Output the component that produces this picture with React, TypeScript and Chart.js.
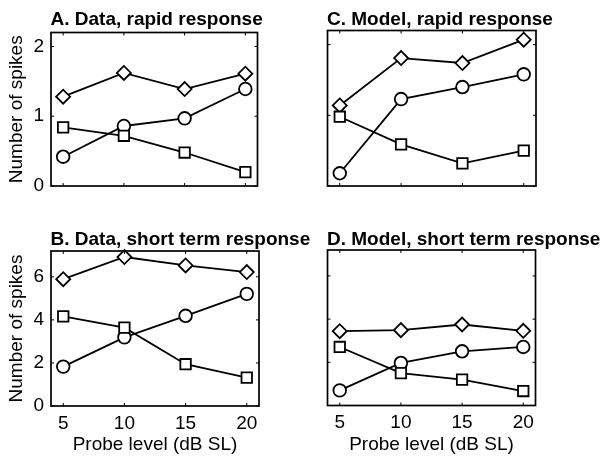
import React, { useEffect, useRef } from "react";
import { Chart, registerables } from "chart.js";

Chart.register(...registerables);

// ---- data ----
const probeLevels = [5, 10, 15, 20];
const xTickValues = [5, 10, 15, 20];
const rapidTicks = [0, 1, 2];
const shortTicks = [0, 2, 4, 6];

const panelTitles = [
  "A. Data, rapid response",
  "C. Model, rapid response",
  "B. Data, short term response",
  "D. Model, short term response",
];
const yAxisLabel = "Number of spikes";
const xAxisLabel = "Probe level (dB SL)";

const dataRapidDiamond = [1.28, 1.62, 1.39, 1.61];
const dataRapidCircle = [0.42, 0.86, 0.97, 1.39];
const dataRapidSquare = [0.84, 0.72, 0.48, 0.2];

const modelRapidDiamond = [1.14, 1.81, 1.74, 2.07];
const modelRapidCircle = [0.18, 1.23, 1.4, 1.58];
const modelRapidSquare = [0.98, 0.59, 0.32, 0.5];

const dataShortDiamond = [5.89, 6.92, 6.53, 6.22];
const dataShortCircle = [1.83, 3.19, 4.19, 5.21];
const dataShortSquare = [4.16, 3.64, 1.94, 1.32];

const modelShortDiamond = [3.44, 3.49, 3.75, 3.46];
const modelShortCircle = [0.7, 1.97, 2.51, 2.71];
const modelShortSquare = [2.71, 1.5, 1.2, 0.67];

const FONT = "'Liberation Sans', Arial, Helvetica, sans-serif";

type Box = { left: number; top: number; w: number; h: number };
type Area = { left: number; top: number; right: number; bottom: number };

type PanelProps = {
  title: string;
  diamonds: number[];
  circles: number[];
  squares: number[];
  yMax: number;
  yTicks: number[];
  showY: boolean;
  showX: boolean;
  box: Box;
  area: Area;
};

function Panel(props: PanelProps) {
  const ref = useRef<HTMLCanvasElement>(null);
  useEffect(() => {
    const { title, diamonds, circles, squares, yMax, yTicks, showY, showX, box, area } = props;
    const canvas = ref.current!;
    const mk = (vals: number[], style: any, r: number) => ({
      data: probeLevels.map((x, i) => ({ x, y: vals[i] })),
      borderColor: "#000",
      borderWidth: 1.8,
      backgroundColor: "#fff",
      pointStyle: style,
      pointRadius: r,
      pointBorderWidth: 1.8,
      pointBackgroundColor: "#fff",
      pointBorderColor: "#000",
      tension: 0,
      fill: false,
      showLine: true,
      clip: false as any,
    });
    const framePlugin = {
      id: "frame",
      afterDraw(chart: any) {
        const { ctx, chartArea, scales } = chart;
        const { left, top, right, bottom } = chartArea;
        ctx.save();
        ctx.strokeStyle = "#000";
        ctx.lineWidth = 1.7;
        ctx.strokeRect(left, top, right - left, bottom - top);
        ctx.lineWidth = 1;
        const tl = 3;
        ctx.beginPath();
        for (const t of scales.x.ticks) {
          const px = scales.x.getPixelForValue(t.value);
          ctx.moveTo(px, bottom);
          ctx.lineTo(px, bottom - tl);
          ctx.moveTo(px, top);
          ctx.lineTo(px, top + tl);
        }
        for (const t of scales.y.ticks) {
          const py = scales.y.getPixelForValue(t.value);
          ctx.moveTo(left, py);
          ctx.lineTo(left + tl, py);
          ctx.moveTo(right, py);
          ctx.lineTo(right - tl, py);
        }
        ctx.stroke();
        ctx.fillStyle = "#000";
        ctx.font = `bold 19px ${FONT}`;
        ctx.textAlign = "left";
        ctx.textBaseline = "alphabetic";
        ctx.fillText(title, left - 0.5, 24.5);
        ctx.restore();
      },
    };
    const chart = new Chart(canvas, {
      type: "line",
      data: {
        datasets: [
          mk(squares, "rect", 7.4),
          mk(circles, "circle", 6.3),
          mk(diamonds, "rectRot", 7),
        ] as any,
      },
      options: {
        responsive: false,
        animation: false,
        layout: {
          padding: { top: area.top, right: box.w - area.right, left: 0, bottom: 0 },
        },
        plugins: {
          legend: { display: false },
          tooltip: { enabled: false },
          title: { display: false },
        },
        scales: {
          x: {
            type: "linear",
            min: 4,
            max: 21,
            grid: { display: false, drawTicks: false },
            border: { display: false },
            ticks: {
              display: showX,
              padding: 6,
              color: "#000",
              font: { family: FONT, size: 19 },
              maxRotation: 0,
            },
            title: {
              display: showX,
              text: xAxisLabel,
              color: "#000",
              font: { family: FONT, size: 19 },
              padding: { top: 0, bottom: 7.6 },
            },
            afterBuildTicks: (s: any) => {
              s.ticks = xTickValues.map((v) => ({ value: v }));
            },
            afterFit: (s: any) => {
              s.height = box.h - area.bottom;
            },
          },
          y: {
            type: "linear",
            min: 0,
            max: yMax,
            grid: { display: false, drawTicks: false },
            border: { display: false },
            ticks: {
              display: showY,
              padding: 7,
              color: "#000",
              font: { family: FONT, size: 19 },
            },
            title: {
              display: showY,
              text: yAxisLabel,
              color: "#000",
              font: { family: FONT, size: 19 },
              padding: { top: 5.6, bottom: 0 },
            },
            afterBuildTicks: (s: any) => {
              s.ticks = yTicks.map((v) => ({ value: v }));
            },
            afterFit: (s: any) => {
              s.width = area.left;
            },
          },
        },
      } as any,
      plugins: [framePlugin],
    });
    return () => chart.destroy();
  }, []);
  const { box } = props;
  return (
    <canvas
      ref={ref}
      width={box.w}
      height={box.h}
      style={{ position: "absolute", left: box.left, top: box.top, width: box.w, height: box.h }}
    />
  );
}

export default function App() {
  return (
    <div
      style={{
        position: "absolute",
        left: 0,
        top: 0,
        width: 606,
        height: 464,
        background: "#fff",
        overflow: "hidden",
      }}
    >
      <Panel
        title={panelTitles[0]}
        diamonds={dataRapidDiamond}
        circles={dataRapidCircle}
        squares={dataRapidSquare}
        yMax={2.2}
        yTicks={rapidTicks}
        showY={true}
        showX={false}
        box={{ left: 0, top: 0, w: 300, h: 215 }}
        area={{ left: 51, top: 32.5, right: 257.5, bottom: 186 }}
      />
      <Panel
        title={panelTitles[1]}
        diamonds={modelRapidDiamond}
        circles={modelRapidCircle}
        squares={modelRapidSquare}
        yMax={2.2}
        yTicks={rapidTicks}
        showY={false}
        showX={false}
        box={{ left: 300, top: 0, w: 306, h: 215 }}
        area={{ left: 27.5, top: 30.5, right: 236, bottom: 186 }}
      />
      <Panel
        title={panelTitles[2]}
        diamonds={dataShortDiamond}
        circles={dataShortCircle}
        squares={dataShortSquare}
        yMax={7.2}
        yTicks={shortTicks}
        showY={true}
        showX={true}
        box={{ left: 0, top: 220, w: 320, h: 244 }}
        area={{ left: 51, top: 31, right: 259, bottom: 186 }}
      />
      <Panel
        title={panelTitles[3]}
        diamonds={modelShortDiamond}
        circles={modelShortCircle}
        squares={modelShortSquare}
        yMax={7.2}
        yTicks={shortTicks}
        showY={false}
        showX={true}
        box={{ left: 300, top: 220, w: 306, h: 244 }}
        area={{ left: 27.5, top: 30, right: 235.5, bottom: 185.5 }}
      />
    </div>
  );
}
